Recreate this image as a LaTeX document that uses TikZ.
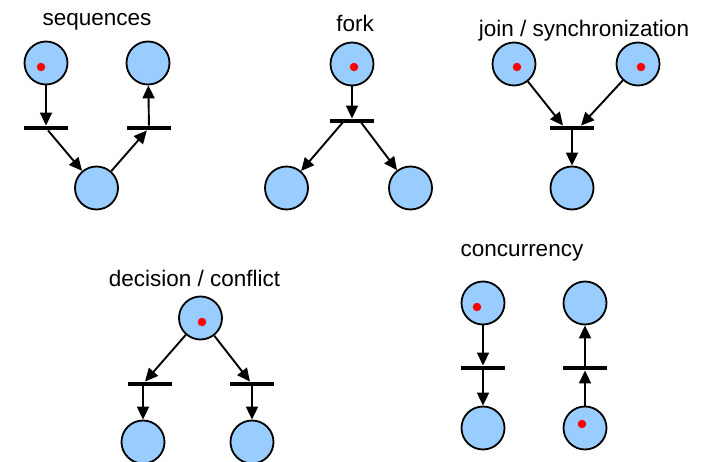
\documentclass[tikz,border=0pt]{standalone}
\usepackage{fontspec}
\setmainfont{Liberation Sans}
\usetikzlibrary{arrows.meta}
\definecolor{placeblue}{RGB}{153,204,255}
\begin{document}
\begin{tikzpicture}[x=1pt,y=-1pt,
 place/.style={circle,draw=black,line width=1.8pt,fill=placeblue,minimum size=43pt,inner sep=0pt},
 trans/.style={rectangle,fill=black,minimum width=44pt,minimum height=4.5pt,inner sep=0pt},
 token/.style={circle,fill=red,minimum size=8.5pt,inner sep=0pt},
 arc/.style={line width=1.9pt,-{Triangle[length=13pt,width=12pt]}},
 lbl/.style={anchor=base,font=\fontsize{22.5}{27}\selectfont}]
\useasboundingbox (0,0) rectangle (701,462);
% labels
\node[lbl] (Lseq) at (97,25.5) {sequences};
\node[lbl] (Lfork) at (355,32) {fork};
\node[lbl] (Ljoin) at (584,37) {join / synchronization};
\node[lbl] (Lconc) at (522,257) {concurrency};
\node[lbl] (Ldec) at (194.5,287) {decision / conflict};
% sequences
\node[place] (s1) at (46,63) {};
\node[token] (s1k) at (41,67) {};
\node[place] (s2) at (148,63) {};
\node[place] (s3) at (96.5,188) {};
\node[trans] (st1) at (46,128) {};
\node[trans] (st2) at (149,128) {};
\draw[arc] (s1) -- (st1);
\draw[arc] (st1) -- (s3);
\draw[arc] (s3) -- (st2);
\draw[arc] (st2) -- (s2);
% fork
\node[place] (f1) at (352,64) {};
\node[token] (f1k) at (354,67) {};
\node[trans] (ft) at (352,121) {};
\node[place] (f2) at (286.5,188) {};
\node[place] (f3) at (410.5,188) {};
\draw[arc] (f1) -- (ft);
\draw[arc] ([xshift=-8pt]ft.center) -- (f2);
\draw[arc] ([xshift=8pt]ft.center) -- (f3);
% join
\node[place] (j1) at (514,64) {};
\node[token] (j1k) at (517,67) {};
\node[place] (j2) at (638,64) {};
\node[token] (j2k) at (641,67) {};
\node[trans] (jt) at (572,128) {};
\node[place] (j3) at (572,188) {};
\draw[arc] (j1) -- ([xshift=-9pt]jt.north);
\draw[arc] (j2) -- ([xshift=9pt]jt.north);
\draw[arc] (jt) -- (j3);
% decision
\node[place] (d1) at (200.5,318) {};
\node[token] (d1k) at (202,322) {};
\node[trans] (dt1) at (150,384) {};
\node[trans] (dt2) at (252,384) {};
\node[place] (d2) at (143,442) {};
\node[place] (d3) at (252,442) {};
\draw[arc] (d1) -- ([xshift=-5pt]dt1.north);
\draw[arc] (d1) -- ([xshift=-2pt]dt2.north);
\draw[arc] (dt1.south -| d2) -- (d2);
\draw[arc] (dt2.south) -- (d3);
% concurrency
\node[place] (c1) at (483,303) {};
\node[token] (c1k) at (477,307) {};
\node[trans] (ct1) at (483,368) {};
\node[place] (c2) at (483,428) {};
\node[place] (c3) at (585,303) {};
\node[trans] (ct2) at (585,368) {};
\node[place] (c4) at (585,428) {};
\node[token] (c4k) at (582,424) {};
\draw[arc] (c1) -- (ct1);
\draw[arc] (ct1) -- (c2);
\draw[arc] (c4) -- (ct2);
\draw[arc] (ct2) -- (c3);
\end{tikzpicture}
\end{document}
